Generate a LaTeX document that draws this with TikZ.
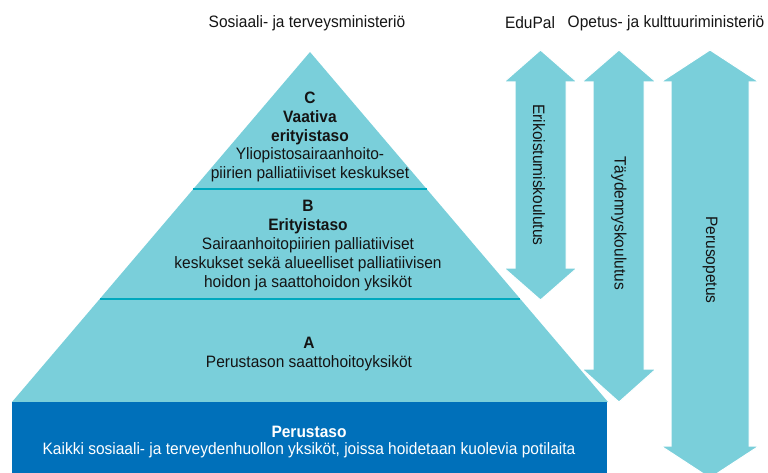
\documentclass[tikz,border=0pt]{standalone}
\usepackage{fontspec}
\setmainfont[FakeStretch=0.94]{Liberation Sans}
\definecolor{tealfill}{HTML}{7ACFDA}
\definecolor{tealline}{HTML}{00A8BE}
\definecolor{basisblue}{HTML}{0070BA}
\definecolor{inktext}{HTML}{141414}
\tikzset{
  txt/.style={inner sep=0pt, align=center, text=inktext, font=\fontsize{16.5}{18.9}\selectfont},
  wtxt/.style={inner sep=0pt, align=center, text=white, font=\fontsize{16.5}{16.5}\selectfont},
  vtxt/.style={inner sep=0pt, text=inktext, rotate=-90, font=\fontsize{16.5}{18}\selectfont},
  sepline/.style={draw=tealline, line width=2.2pt},
  arrowfill/.style={fill=tealfill, draw=white, line width=1pt},
}
\begin{document}
\begin{tikzpicture}[x=1pt,y=-1pt]
\useasboundingbox (0,0) rectangle (768,473);
\clip (0,0) rectangle (768,473);
% pyramid
\fill[tealfill] (310,52) -- (608,402) -- (12,402) -- cycle;
\coordinate (cl) at (193,189); \coordinate (cr) at (427,189);
\coordinate (bl) at (100,299); \coordinate (br) at (520,299);
\draw[sepline] (cl) -- (cr);
\draw[sepline] (bl) -- (br);
\fill[basisblue] (12,402) rectangle (607,475);
% arrows
\path[arrowfill] (540.5,50) -- (577,82) -- (566,82) -- (566,268) -- (577,268) -- (540.5,300) -- (504,268) -- (515,268) -- (515,82) -- (504,82) -- cycle;
\path[arrowfill] (619,50) -- (656,82) -- (644,82) -- (644,369) -- (656,369) -- (619,402) -- (582,369) -- (593,369) -- (593,82) -- (582,82) -- cycle;
\path[arrowfill] (710,50) -- (759,82) -- (749,82) -- (749,446) -- (759,446) -- (710,478) -- (661,446) -- (671,446) -- (671,82) -- (661,82) -- cycle;
% titles
\node[txt] (stm) at (307,23) {Sosiaali- ja terveysministeriö};
\node[txt] (edupal) at (530,23) {EduPal};
\node[txt] (okm) at (666,23) {Opetus- ja kulttuuriministeriö};
% vertical labels
\node[vtxt] (erik) at (539,175) {Erikoistumiskoulutus};
\node[vtxt] (tayd) at (619,223) {Täydennyskoulutus};
\node[vtxt] (perop) at (710,260) {Perusopetus};
% levels
\node[txt] (levc) at (310,137) {\textbf{C}\\\textbf{Vaativa}\\\textbf{erityistaso}\\Yliopistosairaanhoito-\\piirien palliatiiviset keskukset};
\node[txt] (levb) at (308,245.5) {\textbf{B}\\\textbf{Erityistaso}\\Sairaanhoitopiirien palliatiiviset\\keskukset sekä alueelliset palliatiivisen\\hoidon ja saattohoidon yksiköt};
\node[txt] (leva) at (309,354) {\textbf{A}\\Perustason saattohoitoyksiköt};
\node[wtxt] (perus) at (309,442) {\textbf{Perustaso}\\Kaikki sosiaali- ja terveydenhuollon yksiköt, joissa hoidetaan kuolevia potilaita};
\end{tikzpicture}
\end{document}
